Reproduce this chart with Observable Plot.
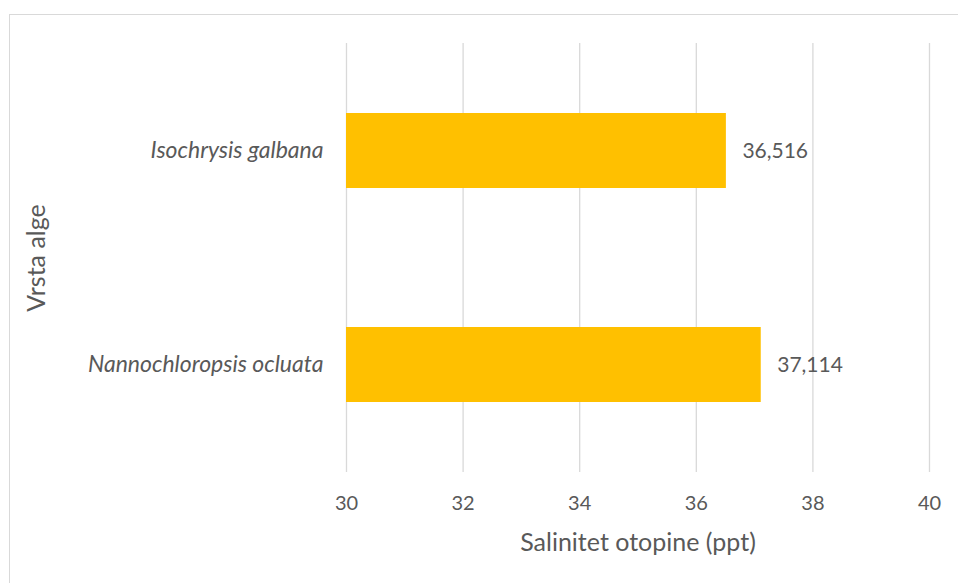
<!DOCTYPE html>
<html>
<head>
<meta charset="utf-8">
<script src="https://cdn.jsdelivr.net/npm/d3@7"></script>
<script src="https://cdn.jsdelivr.net/npm/@observablehq/plot@0.6"></script>
<style>
  html, body { margin: 0; padding: 0; background: #fff; overflow: hidden; }
  #wrap { position: relative; width: 958px; height: 583px; overflow: hidden; }
  #frame { position: absolute; left: 9px; top: 14px; width: 1000px; height: 700px; border: 1px solid #d9d9d9; box-sizing: border-box; }
  #chart { position: absolute; left: 0; top: 0; }
</style>
</head>
<body>
<div id="wrap"><div id="frame"></div><div id="chart"></div></div>
<script>
const species = ["Isochrysis galbana", "Nannochloropsis ocluata"];
const salinity = [36.516, 37.114];
const xTicks = [30, 32, 34, 36, 38, 40];
const xTitle = "Salinitet otopine (ppt)";
const yTitle = "Vrsta alge";

const data = species.map((s, i) => ({species: s, value: salinity[i]}));
const fmt = d3.formatLocale({decimal: ",", thousands: ".", grouping: [3], currency: ["", ""]}).format(".3f");

const textColor = "#595959";

const chart = Plot.plot({
  width: 958,
  height: 583,
  marginLeft: 346,
  marginRight: 29,
  marginTop: 43,
  marginBottom: 111,
  style: {fontFamily: "Lato, sans-serif", fontSize: "20px", color: textColor, background: "transparent"},
  x: {domain: [xTicks[0], xTicks[xTicks.length - 1]]},
  y: {domain: species, paddingInner: 0.648, paddingOuter: 0.324},
  marks: [
    Plot.gridX(xTicks, {stroke: "#d9d9d9", strokeOpacity: 1, strokeWidth: 1.3}),
    Plot.barX(data, {x1: () => xTicks[0], x2: "value", y: "species", fill: "#FFC000"}),
    Plot.text(data, {x: "value", y: "species", text: d => fmt(d.value), textAnchor: "start", dx: 16, fill: textColor, fontSize: 21}),
    Plot.axisX(xTicks, {tickSize: 0, tickPadding: 23, label: null, fill: textColor, fontSize: 20}),
    Plot.axisY({tickSize: 0, tickPadding: 23, label: null, fill: textColor, fontSize: 23, fontStyle: "italic"}),
    Plot.text([xTitle], {frameAnchor: "bottom", dy: 70, lineAnchor: "middle", fill: textColor, fontSize: 25}),
    Plot.text([yTitle], {frameAnchor: "left", dx: -310, rotate: -90, textAnchor: "middle", lineAnchor: "middle", fill: textColor, fontSize: 25})
  ]
});
document.getElementById("chart").appendChild(chart);
</script>
</body>
</html>
